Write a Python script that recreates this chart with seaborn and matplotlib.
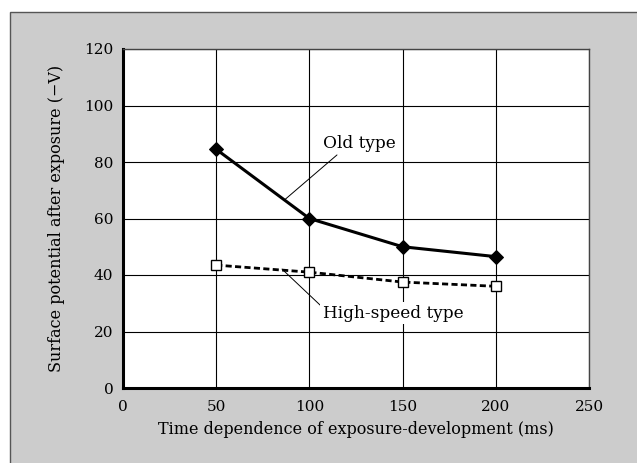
import matplotlib
matplotlib.use("Agg")
import matplotlib.pyplot as plt
import pandas as pd
import seaborn as sns
from matplotlib.patches import Rectangle

# values
times = [50, 100, 150, 200]
old_type = [84.5, 60.0, 50.0, 46.5]
high_speed = [43.5, 41.0, 37.5, 36.0]
x_ticks = [0, 50, 100, 150, 200, 250]
y_ticks = [0, 20, 40, 60, 80, 100, 120]

df = pd.DataFrame({
    "time": times * 2,
    "potential": old_type + high_speed,
    "type": ["Old type"] * 4 + ["High-speed type"] * 4,
})

sns.set_style("white")
plt.rcParams["font.family"] = ["DejaVu Serif"]
plt.rcParams["text.color"] = "black"
plt.rcParams["axes.labelcolor"] = "black"

fig = plt.figure(figsize=(6.37, 4.63), dpi=100)
fig.patch.set_facecolor("white")
# grey panel behind the plot
fig.patches.append(Rectangle((10 / 637, -0.05), 1.0, 1 - 12 / 463 + 0.05,
                             transform=fig.transFigure, facecolor="#cccccc",
                             edgecolor="#555555", linewidth=1.0, zorder=-10))
ax = fig.add_axes([123 / 637, 1 - 388 / 463, 466 / 637, 339 / 463])
ax.set_facecolor("white")

sns.lineplot(data=df[df["type"] == "Old type"], x="time", y="potential",
             color="black", linewidth=2.2, marker="D", markersize=7,
             markeredgecolor="black", markerfacecolor="black", ax=ax, zorder=4)
sns.lineplot(data=df[df["type"] == "High-speed type"], x="time", y="potential",
             color="black", linewidth=2.0, linestyle=(0, (2.2, 1.2)), marker="s",
             markersize=7, markeredgecolor="black", markerfacecolor="white",
             markeredgewidth=1.0, ax=ax, zorder=4)

ax.set_xlim(0, 250)
ax.set_ylim(0, 120)
ax.set_xticks(x_ticks)
ax.set_yticks(y_ticks)
ax.grid(True, color="black", linewidth=0.8)
ax.set_axisbelow(True)
ax.tick_params(direction="in", length=4, width=1, labelsize=11, colors="black")
ax.tick_params(axis="x", pad=8.5)
ax.tick_params(axis="y", pad=7)
for side in ["left", "bottom"]:
    ax.spines[side].set_linewidth(2.2)
    ax.spines[side].set_color("black")
for side in ["top", "right"]:
    ax.spines[side].set_linewidth(1.0)
    ax.spines[side].set_color("#444444")

ax.set_xlabel("Time dependence of exposure-development (ms)", fontsize=11.5, labelpad=5)
ax.set_ylabel("Surface potential after exposure (\u2212V)", fontsize=11.5, labelpad=14)

# curve labels with thin leader lines
ax.text(127, 86.7, "Old type", fontsize=12.2, ha="center", va="center", zorder=5)
ax.annotate("", xy=(86.5, 66.5), xytext=(114.8, 82.5),
            arrowprops=dict(arrowstyle="-", color="black", linewidth=0.7,
                            shrinkA=0, shrinkB=0))
ax.text(145, 26.5, "High-speed type", fontsize=12.2, ha="center", va="center",
        zorder=5, bbox=dict(boxstyle="square,pad=0.15", facecolor="white", edgecolor="none"))
ax.annotate("", xy=(85.3, 42.1), xytext=(106.8, 28.7),
            arrowprops=dict(arrowstyle="-", color="black", linewidth=0.7,
                            shrinkA=0, shrinkB=0))

fig.savefig("out.png", dpi=100)
